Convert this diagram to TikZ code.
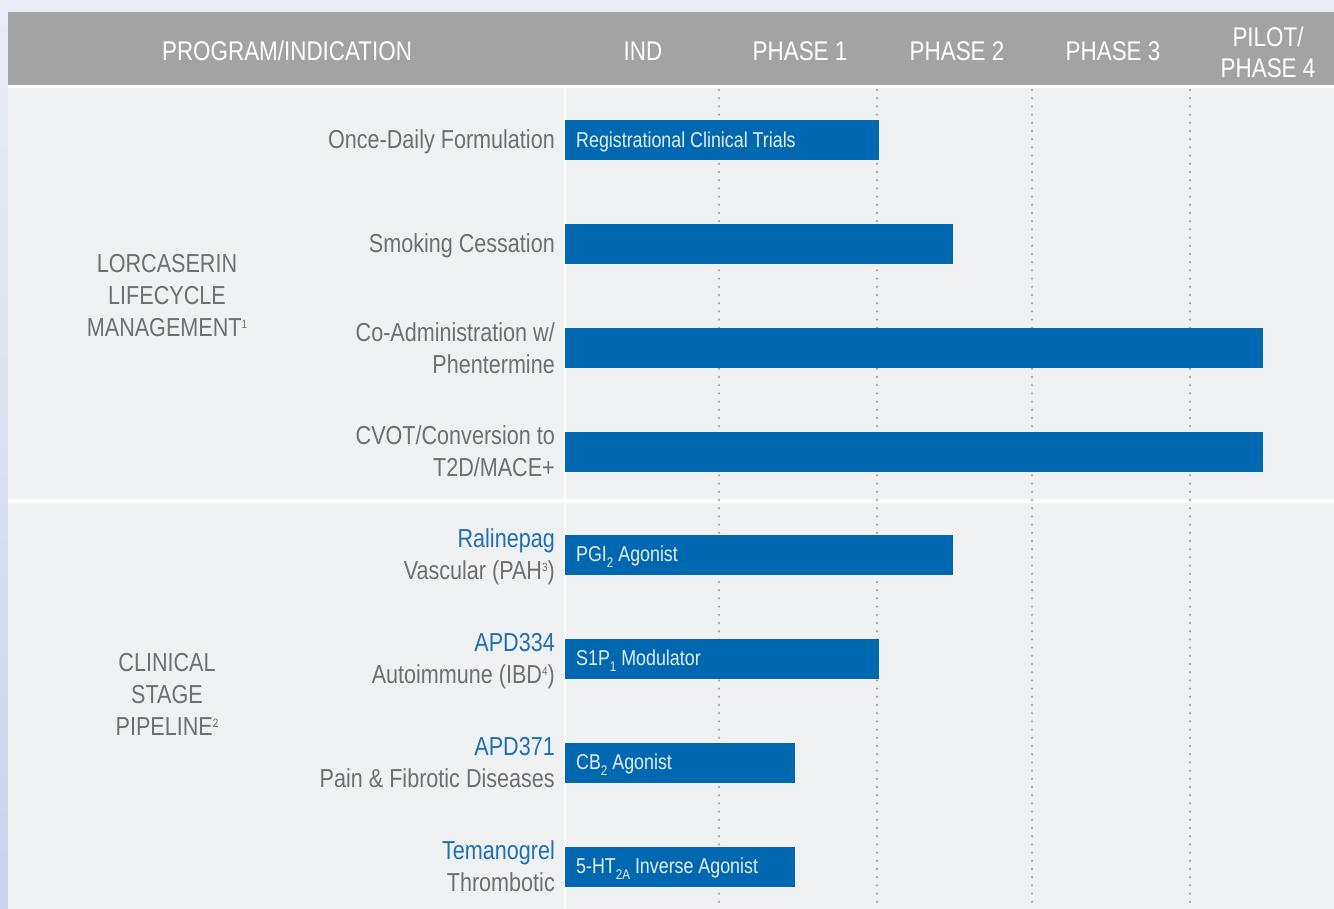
\documentclass[tikz,border=0pt]{standalone}
\usepackage{fontspec}
\setmainfont{Liberation Sans}[FakeStretch=0.83]
\definecolor{pagebg}{HTML}{E9EBF6}
\definecolor{edgebg}{HTML}{CBD4ED}
\definecolor{headgrey}{HTML}{A3A3A3}
\definecolor{bodygrey}{HTML}{F0F1F3}
\definecolor{barblue}{HTML}{0067B1}
\definecolor{bartxt}{HTML}{E4EDF8}
\definecolor{drugblue}{HTML}{1E70B6}
\definecolor{labgrey}{HTML}{6E6F71}
\definecolor{dotgrey}{HTML}{A9AAAD}
\newcommand{\dn}[1]{\raisebox{-6pt}{\fontsize{14}{14}\selectfont #1}}
\newcommand{\up}[1]{\raisebox{8pt}{\fontsize{12}{12}\selectfont #1}}
\newcommand{\drug}[1]{{\color{drugblue}#1}}

\begin{document}
\begin{tikzpicture}[x=1pt,y=-1pt]
  \useasboundingbox (0,0) rectangle (1334,909);

  \fill[pagebg] (0,0) rectangle (1334,909);
  \shade[top color=pagebg, bottom color=edgebg] (0,12) rectangle (8,909);
  \fill[headgrey] (8,12) rectangle (1334,85);
  \fill[white] (8,85) rectangle (1334,88);
  \fill[bodygrey] (8,88) rectangle (1334,909);
  \fill[white] (8,499) rectangle (1334,503);
  \draw[white, line width=1.5pt] (565,88) -- (565,909);

  \foreach \x in {719,877,1032,1190}
    \draw[dotgrey, line width=2.6pt, line cap=round, dash pattern=on 0pt off 8.2pt] (\x,90) -- (\x,909);

  \begin{scope}[every node/.style={white, font=\fontsize{27}{31}\selectfont, align=center}]
    \node (h0) at (287,51)  {PROGRAM/INDICATION};
    \node (h1) at (643,51)  {IND};
    \node (h2) at (800,51)  {PHASE 1};
    \node (h3) at (957,51)  {PHASE 2};
    \node (h4) at (1113,51) {PHASE 3};
    \node (h5) at (1268,52) {PILOT/\\PHASE 4};
  \end{scope}

  \begin{scope}[every node/.style={labgrey, font=\fontsize{26}{32}\selectfont, align=center}]
    \node (g1) at (167,296) {LORCASERIN\\LIFECYCLE\\MANAGEMENT\up{1}};
    \node (g2) at (167,694) {CLINICAL\\STAGE\\PIPELINE\up{2}};
  \end{scope}

  \begin{scope}[every node/.style={labgrey, font=\fontsize{26}{32}\selectfont, align=right, anchor=east, inner sep=0pt}]
    \node (l1) at (555,142) {Once-Daily Formulation};
    \node (l2) at (555,246) {Smoking Cessation};
    \node (l3) at (555,348) {Co-Administration w/\\Phentermine};
    \node (l4) at (555,451) {CVOT/Conversion to\\T2D/MACE+};
    \node (l5) at (555,557) {\drug{Ralinepag}\\Vascular (PAH\up{3})};
    \node (l6) at (555,661) {\drug{APD334}\\Autoimmune (IBD\up{4})};
    \node (l7) at (555,763) {\drug{APD371}\\Pain \& Fibrotic Diseases};
    \node (l8) at (555,866) {\drug{Temanogrel}\\Thrombotic};
  \end{scope}

  \begin{scope}[every node/.style={fill=barblue, anchor=west, minimum height=40pt, inner sep=0pt}]
    \node[minimum width=314pt] (b1) at (565,140) {};
    \node[minimum width=388pt] (b2) at (565,244) {};
    \node[minimum width=698pt] (b3) at (565,348) {};
    \node[minimum width=698pt] (b4) at (565,452) {};
    \node[minimum width=388pt] (b5) at (565,555) {};
    \node[minimum width=314pt] (b6) at (565,659) {};
    \node[minimum width=230pt] (b7) at (565,763) {};
    \node[minimum width=230pt] (b8) at (565,867) {};
  \end{scope}

  \begin{scope}[every node/.style={bartxt, anchor=west, inner xsep=11pt, yshift=-2pt, font=\fontsize{21.5}{24}\selectfont}]
    \node (t1) at (b1.west) {Registrational Clinical Trials};
    \node (t5) at (b5.west) {PGI\dn{2} Agonist};
    \node (t6) at (b6.west) {S1P\dn{1} Modulator};
    \node (t7) at (b7.west) {CB\dn{2} Agonist};
    \node (t8) at (b8.west) {5-HT\dn{2A} Inverse Agonist};
  \end{scope}

\end{tikzpicture}
\end{document}
